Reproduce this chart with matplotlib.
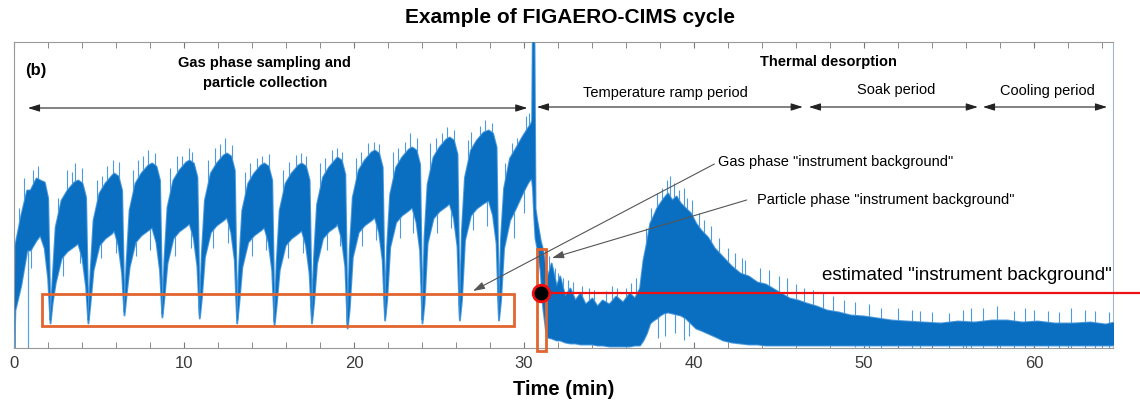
import numpy as np
import matplotlib.pyplot as plt
from matplotlib.patches import Rectangle

plt.rcParams['font.family'] = ['Liberation Sans', 'DejaVu Sans']

# signal envelope (arbitrary units, 0 = axis bottom), gas phase part
t_gas = [0, 0.05, 0.4, 0.75, 0.95, 1.3, 1.52, 1.78, 1.98,
         2.12, 2.24, 2.42, 2.77, 3.12, 3.52, 3.75, 4.00, 4.21,
         4.35, 4.47, 4.65, 5.00, 5.35, 5.75, 5.87, 6.12, 6.33,
         6.47, 6.59, 6.77, 7.12, 7.47, 7.87, 8.10, 8.35, 8.56,
         8.70, 8.82, 9.00, 9.35, 9.70, 10.10, 10.30, 10.55, 10.76,
         10.90, 11.02, 11.20, 11.55, 11.90, 12.30, 12.50, 12.75, 12.96,
         13.10, 13.22, 13.40, 13.75, 14.10, 14.50, 14.70, 14.95, 15.16,
         15.30, 15.42, 15.60, 15.95, 16.30, 16.70, 16.90, 17.15, 17.36,
         17.50, 17.62, 17.80, 18.15, 18.50, 18.90, 19.00, 19.25, 19.46,
         19.60, 19.72, 19.90, 20.25, 20.60, 21.00, 21.20, 21.45, 21.66,
         21.80, 21.92, 22.10, 22.45, 22.80, 23.20, 23.40, 23.65, 23.86,
         24.00, 24.12, 24.30, 24.65, 25.00, 25.40, 25.60, 25.85, 26.06,
         26.20, 26.32, 26.50, 26.85, 27.20, 27.60, 27.90, 28.15, 28.36,
         28.50, 28.62, 28.80, 29.15, 29.50, 29.90, 30.20, 30.40]
lo_gas = [0, 38, 63, 98, 98, 108, 113, 100, 70,
          25, 45, 65, 90, 97, 102, 105, 90, 62,
          25, 45, 78, 103, 110, 115, 118, 103, 75,
          33, 53, 81, 106, 113, 118, 121, 106, 78,
          31, 51, 85, 110, 117, 122, 125, 110, 82,
          30, 50, 91, 116, 123, 128, 131, 116, 88,
          25, 45, 81, 106, 113, 118, 121, 106, 78,
          23, 43, 78, 103, 110, 115, 118, 103, 75,
          25, 45, 85, 110, 117, 122, 125, 110, 82,
          20, 40, 91, 116, 123, 128, 131, 116, 88,
          28, 48, 101, 126, 133, 138, 141, 126, 98,
          25, 45, 105, 130, 137, 142, 145, 130, 102,
          28, 48, 108, 133, 140, 145, 148, 133, 105,
          28, 48, 100, 128, 140, 155, 165, 170]
hi_gas = [0, 103, 133, 158, 158, 170, 168, 166, 150,
          29, 68, 121, 148, 158, 166, 168, 165, 151,
          29, 75, 128, 155, 165, 173, 175, 172, 158,
          37, 85, 138, 165, 175, 183, 185, 182, 168,
          35, 88, 141, 168, 178, 186, 188, 185, 171,
          34, 95, 148, 175, 185, 193, 195, 192, 178,
          29, 85, 138, 165, 175, 183, 185, 182, 168,
          27, 85, 138, 165, 175, 183, 185, 182, 168,
          29, 91, 144, 171, 181, 189, 191, 188, 174,
          24, 98, 151, 178, 188, 196, 198, 195, 181,
          32, 101, 154, 181, 191, 199, 201, 198, 184,
          29, 111, 164, 191, 201, 209, 211, 208, 194,
          32, 118, 171, 198, 208, 216, 218, 215, 201,
          32, 110, 160, 190, 200, 212, 220, 225]

# thermal desorption part
t_td = [30.45, 30.50, 30.58, 30.65, 30.75, 30.95, 31.1, 31.25, 31.35,
        31.6, 31.9, 32.1, 32.4, 32.7, 33.0, 33.3, 33.6, 34.0, 34.3, 34.6,
        35.0, 35.4, 35.8, 36.2, 36.5, 36.8, 37.0, 37.2, 37.4, 37.6, 37.8,
        38.0, 38.2, 38.45, 38.7, 38.95, 39.2, 39.5, 39.8, 40.1, 40.4, 40.8,
        41.2, 41.7, 42.2, 42.7, 43.2, 43.7, 44.2, 44.6, 45.1, 45.6, 46.1,
        46.6, 47.2, 47.8, 48.5, 49.2, 50.0, 50.8, 51.6, 52.5, 53.5, 54.5,
        55.5, 56.5, 57.5, 58.4, 59.3, 60.2, 61.2, 62.3, 63.3, 64.2, 64.7]
lo_td = [168, 160, 130, 110, 101, 78, 41, 20, 11,
         10, 8, 8, 6, 5, 5, 4, 4, 4, 3, 3,
         2, 2, 2, 2, 3, 3, 8, 15, 25, 28, 30,
         33, 35, 36, 35, 34, 33, 30, 25, 20, 18, 15,
         12, 8, 6, 5, 4, 4, 3, 3, 3, 3, 3,
         3, 3, 3, 3, 3, 3, 3, 3, 3, 3, 3,
         3, 3, 3, 3, 3, 3, 3, 3, 3, 3, 3]
hi_td = [228, 330, 330, 140, 128, 108, 98, 80, 70,
         85, 62, 72, 52, 60, 48, 55, 44, 50, 42, 48,
         44, 52, 46, 55, 50, 60, 88, 105, 125, 132, 140,
         145, 150, 155, 148, 152, 145, 140, 135, 125, 118, 111,
         100, 91, 82, 75, 72, 66, 64, 60, 55, 50, 48,
         45, 42, 38, 36, 33, 32, 30, 28, 27, 26, 25,
         27, 26, 28, 28, 26, 27, 25, 25, 26, 24, 26]

# thin noise spikes sticking out above the band (time, tip)
up_t = [0.3, 0.6, 1.1, 1.4, 2.6, 3.1, 3.4, 3.6, 4.0, 4.9, 5.2, 5.5, 5.8, 6.2,
        7.0, 7.3, 7.6, 7.9, 8.3, 9.2, 9.6, 9.9, 10.3, 10.5, 11.4, 11.8, 12.1,
        12.4, 12.8, 13.6, 13.9, 14.3, 14.6, 15.0, 15.8, 16.2, 16.6, 16.9, 17.2,
        18.0, 18.3, 18.7, 19.0, 19.3, 20.1, 20.4, 20.8, 21.2, 21.5, 22.3, 22.6,
        23.0, 23.3, 23.7, 24.5, 24.8, 25.2, 25.5, 25.9, 26.7, 26.9, 27.4, 27.7,
        28.1, 28.9, 29.3, 29.6, 30.1, 30.3,
        31.5, 31.8, 32.0, 32.3, 32.6, 32.9, 33.4, 33.8, 34.1, 34.8, 35.2, 35.5,
        36.0, 36.3, 36.6, 36.9, 37.2, 37.5, 37.8, 38.1, 38.4, 38.6, 38.8, 39.1,
        39.4, 39.6, 39.9, 40.3, 40.6, 41.0, 41.5, 42.0, 42.4, 42.8, 43.0, 43.9,
        44.4, 45.0, 45.5, 46.0, 46.5, 47.0, 47.6, 48.2, 48.8, 49.5, 50.3, 51.0,
        52.0, 52.8, 53.3, 54.0, 55.0, 55.8, 56.3, 57.0, 57.8, 58.8, 59.5, 60.0,
        60.8, 61.5, 62.2, 63.0, 63.6, 64.4]
up_top = [140, 170, 178, 182, 150, 178, 176, 185, 180, 168, 172, 182, 188, 186,
          178, 188, 192, 198, 195, 180, 192, 192, 200, 196, 188, 200, 204,
          210, 203, 176, 185, 190, 192, 194, 178, 186, 193, 195, 192,
          185, 190, 198, 200, 196, 190, 196, 205, 206, 204, 196, 200,
          206, 215, 210, 205, 210, 215, 221, 218, 208, 216, 222, 228,
          225, 185, 205, 210, 232, 235,
          92, 80, 75, 70, 68, 66, 62, 60, 58, 57, 62, 60,
          60, 65, 70, 75, 120, 140, 155, 160, 168, 172, 165, 158,
          160, 150, 148, 135, 128, 122, 110, 100, 95, 90, 88, 80,
          78, 72, 70, 64, 60, 58, 55, 52, 48, 46, 44, 40,
          40, 38, 37, 36, 35, 38, 40, 40, 42, 37, 40, 38,
          37, 36, 40, 38, 37, 36]
# spikes reaching down below the band (time, tip)
dn_t = [1.0, 2.9, 3.9, 5.1, 6.0, 7.2, 8.0, 9.5, 10.4, 11.7, 12.6, 14.0, 14.8,
        16.1, 17.0, 18.4, 19.2, 20.5, 21.3, 22.7, 23.5, 24.9, 25.7, 27.0, 27.8,
        29.4, 30.0, 37.9, 38.3, 38.9, 39.4, 39.7]
dn_bot = [80, 72, 85, 90, 95, 92, 98, 92, 100, 100, 105, 92, 98,
          90, 95, 98, 102, 102, 108, 110, 115, 115, 120, 118, 122,
          110, 135, 10, 12, 15, 8, 12]

blue = '#0a6fc0'
light = '#4d9bde'
orange = '#e2652f'

fig = plt.figure(figsize=(11.4, 4.09), dpi=100)
ax = fig.add_axes([14/1140, 61/409, 1099/1140, 306/409])

time = np.array(t_gas + t_td)
low = np.array(lo_gas + lo_td)
high = np.array(hi_gas + hi_td)
ut = np.array(up_t)
uh = np.array(up_top)
ax.vlines(ut, uh - 45, uh, color=light, lw=0.8, zorder=1)
dt = np.array(dn_t)
db = np.array(dn_bot)
ax.vlines(dt, db, db + 45, color=light, lw=0.8, zorder=1)
ax.fill_between(time, low, high, color=blue, lw=1.4, edgecolor=light, zorder=2)
ax.fill_between(time, low, high, color=blue, lw=0, zorder=3)
# dropout near start
ax.vlines([0.85], -5, 100, color='#5fa3dc', lw=0.9, zorder=1)
ax.vlines([0.02], 0, 100, color='#5fa3dc', lw=0.9, zorder=1)

ax.set_xlim(0, 64.65)
ax.set_ylim(0, 306)
ax.set_yticks([])
ax.set_xticks([0, 10, 20, 30, 40, 50, 60])
ax.set_xticks(np.arange(0, 65, 2), minor=True)
ax.tick_params(axis='x', which='both', direction='in', top=True, length=4,
               color='#777777', labelsize=12, labelcolor='#3a3a3a', pad=6)
for s in ['left', 'top', 'bottom']:
    ax.spines[s].set_color('#999999')
ax.spines['right'].set_color('#9cb9d6')
ax.set_xlabel('Time (min)', fontsize=14.5, fontweight='bold', labelpad=6)

fig.text(0.5, 0.956, 'Example of FIGAERO-CIMS cycle', ha='center', va='center',
         fontsize=15, fontweight='bold')

ax.text(0.65, 278, '(b)', fontsize=12, fontweight='bold', va='center')
ax.text(14.76, 275, 'Gas phase sampling and\nparticle collection', ha='center',
        va='center', fontsize=10.5, fontweight='bold', linespacing=1.5)
ax.text(47.9, 286, 'Thermal desorption', ha='center', va='center',
        fontsize=10.5, fontweight='bold')
ax.text(38.3, 255, 'Temperature ramp period', ha='center', va='center', fontsize=10.5)
ax.text(51.9, 258, 'Soak period', ha='center', va='center', fontsize=10.5)
ax.text(60.8, 257, 'Cooling period', ha='center', va='center', fontsize=10.5)

arr = dict(arrowstyle='<|-|>,head_length=0.7,head_width=0.22', color='#222222',
           lw=0.8, shrinkA=0, shrinkB=0)
for x0, x1, yy in [(0.82, 30.2, 240), (30.76, 46.4, 241), (46.76, 56.7, 241),
                   (57.0, 64.3, 241)]:
    ax.annotate('', xy=(x1, yy), xytext=(x0, yy), arrowprops=arr)

pt = dict(arrowstyle='-|>,head_length=0.7,head_width=0.22', color='#555555',
          lw=0.8, shrinkA=0, shrinkB=0)
ax.annotate('', xy=(27.0, 57), xytext=(41.2, 184), arrowprops=pt, zorder=5)
ax.text(41.4, 186, 'Gas phase "instrument background"', va='center', fontsize=10.5)
ax.annotate('', xy=(31.65, 90), xytext=(43.1, 148), arrowprops=pt, zorder=5)
ax.text(43.7, 148, 'Particle phase "instrument background"', va='center', fontsize=10.5)

ax.add_patch(Rectangle((1.65, 22), 27.76, 32, fill=False, ec=orange, lw=2, zorder=4))
ax.add_patch(Rectangle((30.76, -3), 0.53, 102, fill=False, ec=orange, lw=2,
                       clip_on=False, zorder=4))

ax.plot([31.0, 66.3], [55, 55], color='#ee1111', lw=1.6, clip_on=False, zorder=5)
ax.plot([31.0], [55], 'o', ms=12, mfc='black', mec='#ee1111', mew=2, zorder=6)
ax.text(64.55, 73, 'estimated "instrument background"', ha='right', va='center',
        fontsize=13.5)

fig.savefig('out.png', dpi=100)
